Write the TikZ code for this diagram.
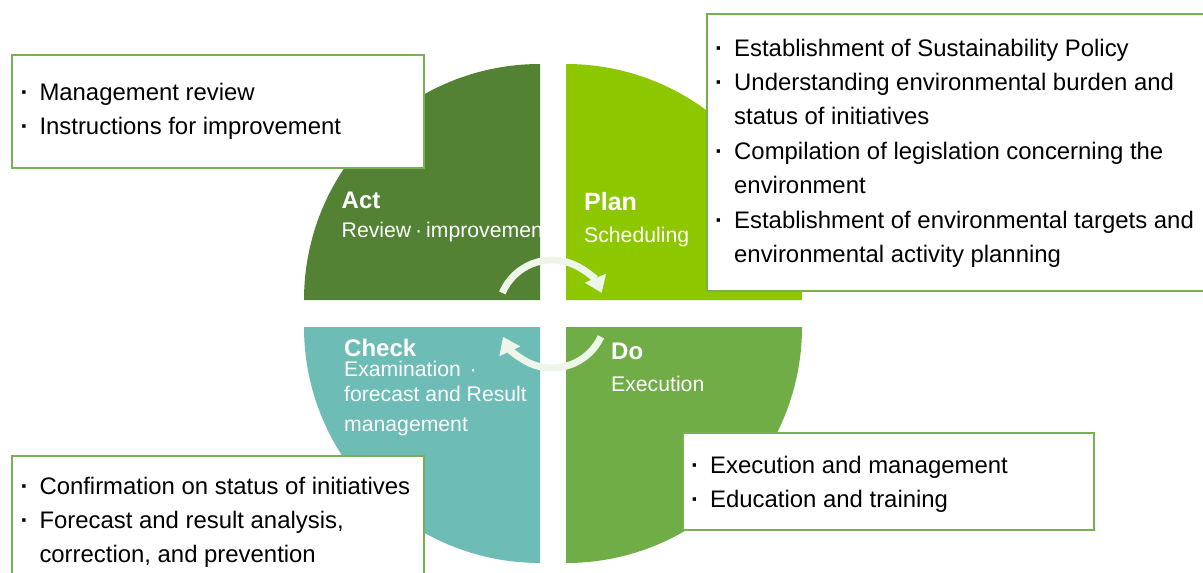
\documentclass[tikz,border=0pt]{standalone}
\usepackage{fontspec}
\setmainfont{Liberation Sans}
\usetikzlibrary{arrows.meta}
\definecolor{actc}{HTML}{548235}
\definecolor{planc}{HTML}{8DC700}
\definecolor{checkc}{HTML}{6DBDB6}
\definecolor{doc}{HTML}{70AD47}
\definecolor{boxc}{HTML}{76B152}
\definecolor{arrc}{HTML}{EEF6EA}
\newcommand{\bul}{\makebox[30pt][c]{\bfseries ·}}
\begin{document}
\begin{tikzpicture}[x=1pt,y=-1pt,
  infobox/.style={draw=boxc, line width=2pt, fill=white, anchor=north west, inner sep=0pt},
  txt/.style={anchor=base west, inner sep=0pt, font=\fontsize{23.9}{28}\selectfont, text=black},
  headl/.style={anchor=base west, inner sep=0pt, font=\bfseries\fontsize{24}{28}\selectfont, text=white},
  subl/.style={anchor=base west, inner sep=0pt, font=\fontsize{21.2}{25}\selectfont, text=white},
  cyc/.style={draw=arrc, line width=7pt, -{Triangle[width=22pt,length=16pt]}}]
\useasboundingbox (0,0) rectangle (1203,573);
% quadrants
\fill[actc] (540,300) -- (304,300) arc[start angle=180,end angle=270,radius=236] -- cycle;
\fill[planc] (566,300) -- (566,64) arc[start angle=270,end angle=360,radius=236] -- cycle;
\fill[checkc] (540,327) -- (304,327) arc[start angle=180,end angle=90,radius=236] -- cycle;
\fill[doc] (566,327) -- (802,327) arc[start angle=0,end angle=90,radius=236] -- cycle;
% cycle arrows
\coordinate (ctr) at (552,314);
\draw[cyc] ([shift={(203:54)}]ctr) arc[start angle=203,end angle=337,radius=54];
\draw[cyc] ([shift={(25:54)}]ctr) arc[start angle=25,end angle=155,radius=54];
% quadrant labels
\begin{scope}
\clip (540,300) -- (304,300) arc[start angle=180,end angle=270,radius=236] -- cycle;
\node[headl] (actl) at (341.5,208.5) {Act};
\node[subl] (acts) at (341.5,237) {Review\hspace{4pt}·\hspace{4pt}improvement};
\end{scope}
\node[headl, font=\bfseries\fontsize{25}{28}\selectfont] (planl) at (584,210.5) {Plan};
\node[subl] (plans) at (584,242) {Scheduling};
\node[headl] (checkl) at (344,356) {Check};
\node[subl] (checks1) at (344,376) {Examination \hspace{3pt}·};
\node[subl] (checks2) at (344,401) {forecast and Result};
\node[subl] (checks3) at (344,431) {management};
\node[headl] (dol) at (611,359) {Do};
\node[subl] (dos) at (611,391) {Execution};
% boxes
\node[infobox, minimum width=412pt, minimum height=113pt] (actbox) at (11,54) {};
\node[infobox, minimum width=504pt, minimum height=277pt] (planbox) at (706,13) {};
\node[infobox, minimum width=412pt, minimum height=135pt] (checkbox) at (11,455) {};
\node[infobox, minimum width=411pt, minimum height=97pt] (dobox) at (682,432) {};
% act box text
\node[txt] (a1) at (9.3,100) {\bul Management review};
\node[txt] (a2) at (9.3,134.4) {\bul Instructions for improvement};
% plan box text
\node[txt] (p1) at (704,56) {\bul Establishment of Sustainability Policy};
\node[txt] (p2) at (704,90.4) {\bul Understanding environmental burden and};
\node[txt] (p3) at (734,124.8) {status of initiatives};
\node[txt] (p4) at (704,159.2) {\bul Compilation of legislation concerning the};
\node[txt] (p5) at (734,193.6) {environment};
\node[txt] (p6) at (704,228) {\bul Establishment of environmental targets and};
\node[txt] (p7) at (734,262.4) {environmental activity planning};
% check box text
\node[txt] (c1) at (9.3,494) {\bul Confirmation on status of initiatives};
\node[txt] (c2) at (9.3,528.4) {\bul Forecast and result analysis,};
\node[txt] (c3) at (39.3,562.8) {correction, and prevention};
% do box text
\node[txt] (d1) at (680,473.5) {\bul Execution and management};
\node[txt] (d2) at (680,507) {\bul Education and training};
\end{tikzpicture}
\end{document}
